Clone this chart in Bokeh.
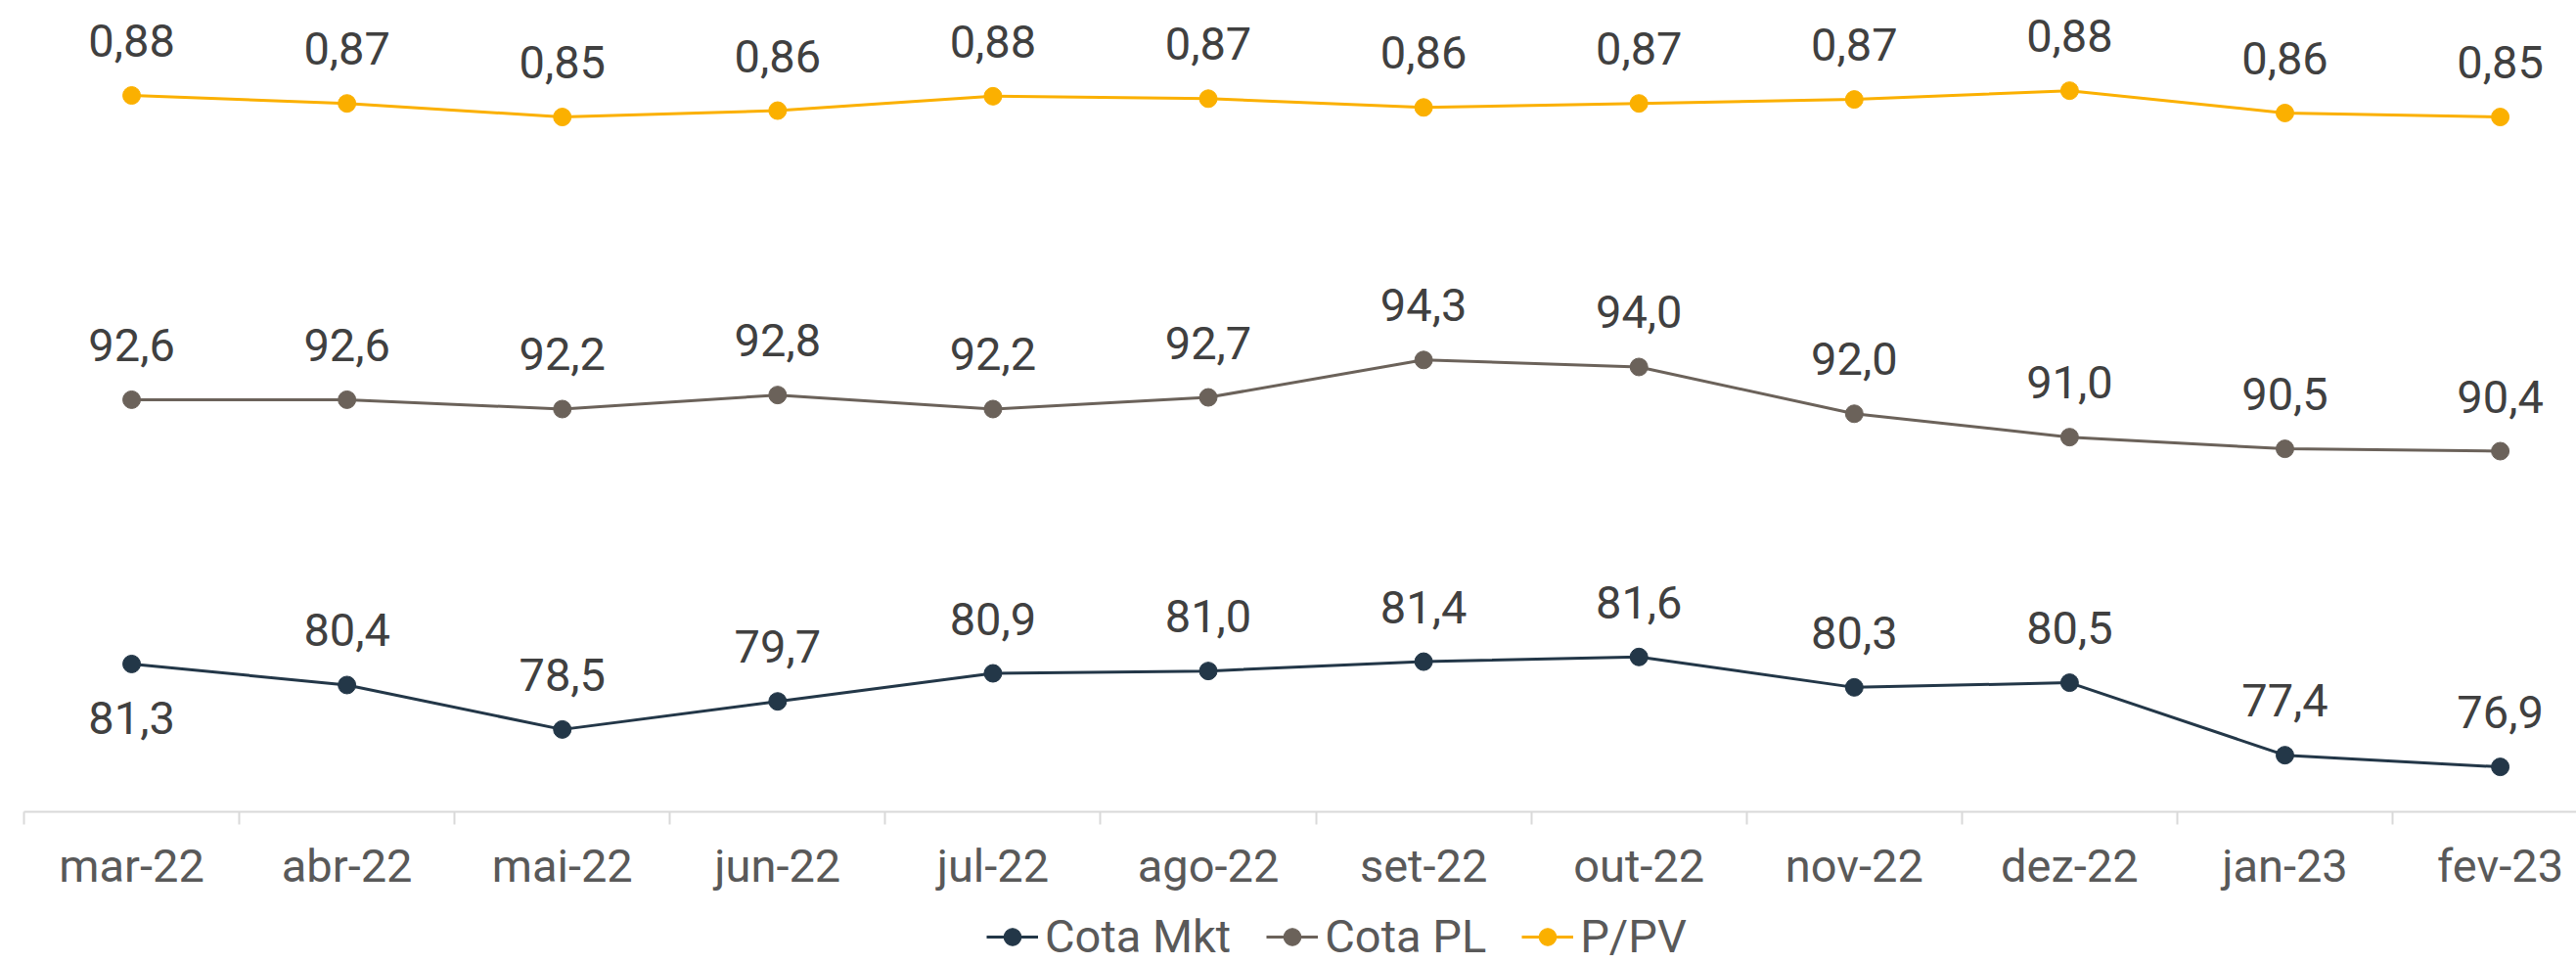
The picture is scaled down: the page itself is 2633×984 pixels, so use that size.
from bokeh.plotting import figure
from bokeh.layouts import column
from bokeh.models import Range1d, FixedTicker, Legend, LegendItem, ColumnDataSource
from bokeh.core.properties import value
from bokeh.embed import file_html
from bokeh.resources import INLINE

months = ["mar-22", "abr-22", "mai-22", "jun-22", "jul-22", "ago-22",
          "set-22", "out-22", "nov-22", "dez-22", "jan-23", "fev-23"]
cota_mkt = [81.3, 80.4, 78.5, 79.7, 80.9, 81.0, 81.4, 81.6, 80.3, 80.5, 77.4, 76.9]
cota_pl = [92.6, 92.6, 92.2, 92.8, 92.2, 92.7, 94.3, 94.0, 92.0, 91.0, 90.5, 90.4]
p_pv = [0.878, 0.868, 0.851, 0.859, 0.877, 0.874, 0.863, 0.868, 0.873, 0.884, 0.856, 0.851]

FONT = "Roboto"
C_MKT = "#233748"
C_PL = "#6B625A"
C_PPV = "#FBB000"
TXT = "#404040"
FS = "47px"

x = list(range(len(months)))

def fmt(v, d):
    return f"{v:.{d}f}".replace(".", ",")

src_mkt = ColumnDataSource(dict(x=x, y=cota_mkt, lab=[fmt(v, 1) for v in cota_mkt],
                                off=[55 if i == 0 else -56 for i in x]))
src_pl = ColumnDataSource(dict(x=x, y=cota_pl, lab=[fmt(v, 1) for v in cota_pl]))
src_ppv = ColumnDataSource(dict(x=x, y=p_pv, lab=[fmt(v, 2) for v in p_pv]))

# main chart
p = figure(width=2633, height=915, output_backend="svg", toolbar_location=None,
           x_range=Range1d(-0.5, 11.354), y_range=Range1d(74.98, 109.67),
           y_axis_location=None, min_border_left=24, min_border_right=0,
           min_border_top=0, min_border_bottom=86)
p.extra_y_ranges = {"ppv": Range1d(-0.0196, 0.997)}
p.outline_line_color = None
p.xgrid.visible = False
p.ygrid.visible = False
p.background_fill_color = "white"
p.border_fill_color = "white"

ax = p.xaxis[0]
ax.ticker = FixedTicker(ticks=x, minor_ticks=[i - 0.5 for i in x])
ax.major_label_overrides = {i: m for i, m in enumerate(months)}
ax.major_tick_line_color = None
ax.major_tick_out = 0
ax.major_tick_in = 0
ax.minor_tick_line_color = "#D9D9D9"
ax.minor_tick_line_width = 2
ax.minor_tick_out = 13
ax.minor_tick_in = 0
ax.axis_line_color = "#D9D9D9"
ax.axis_line_width = 2
ax.major_label_standoff = 14
ax.major_label_text_font = FONT
ax.major_label_text_font_size = FS
ax.major_label_text_color = "#595959"

p.line("x", "y", source=src_mkt, line_color=C_MKT, line_width=3)
p.scatter("x", "y", source=src_mkt, size=18, fill_color=C_MKT, line_color=C_MKT)
p.line("x", "y", source=src_pl, line_color=C_PL, line_width=3)
p.scatter("x", "y", source=src_pl, size=18, fill_color=C_PL, line_color=C_PL)
p.line("x", "y", source=src_ppv, line_color=C_PPV, line_width=3, y_range_name="ppv")
p.scatter("x", "y", source=src_ppv, size=18, fill_color=C_PPV, line_color=C_PPV,
          y_range_name="ppv")

common = dict(text="lab", text_align="center", text_baseline="alphabetic",
              text_font=value(FONT), text_font_size=FS, text_color=TXT)
p.text("x", "y", source=src_mkt, y_offset="off", **common)
p.text("x", "y", source=src_pl, y_offset=-56, **common)
p.text("x", "y", source=src_ppv, y_offset=-56, y_range_name="ppv", **common)

# legend strip below the chart (series drawn out of view, only used for the legend keys)
q = figure(width=2633, height=69, output_backend="svg", toolbar_location=None,
           x_range=Range1d(1000, 1001), y_range=Range1d(1000, 1001),
           x_axis_location=None, y_axis_location=None,
           min_border_left=0, min_border_right=0, min_border_top=0, min_border_bottom=0)
q.outline_line_color = None
q.xgrid.visible = False
q.ygrid.visible = False
q.border_fill_color = "white"
q.background_fill_color = "white"
k1 = q.line("x", "y", source=src_mkt, line_color=C_MKT, line_width=3)
m1 = q.scatter("x", "y", source=src_mkt, size=18, fill_color=C_MKT, line_color=C_MKT)
k2 = q.line("x", "y", source=src_pl, line_color=C_PL, line_width=3)
m2 = q.scatter("x", "y", source=src_pl, size=18, fill_color=C_PL, line_color=C_PL)
k3 = q.line("x", "y", source=src_ppv, line_color=C_PPV, line_width=3)
m3 = q.scatter("x", "y", source=src_ppv, size=18, fill_color=C_PPV, line_color=C_PPV)

legend = Legend(items=[LegendItem(label="Cota Mkt", renderers=[k1, m1]),
                       LegendItem(label="Cota PL", renderers=[k2, m2]),
                       LegendItem(label="P/PV", renderers=[k3, m3])],
                orientation="horizontal", location=(984, 0),
                label_text_font=FONT, label_text_font_size=FS, label_text_color="#595959",
                glyph_width=53, glyph_height=44, label_height=44, label_standoff=7,
                spacing=36, padding=0, margin=0, border_line_color=None,
                background_fill_alpha=0)
q.add_layout(legend, "center")

open("out.html", "w").write(file_html(column(p, q, spacing=0), INLINE))
